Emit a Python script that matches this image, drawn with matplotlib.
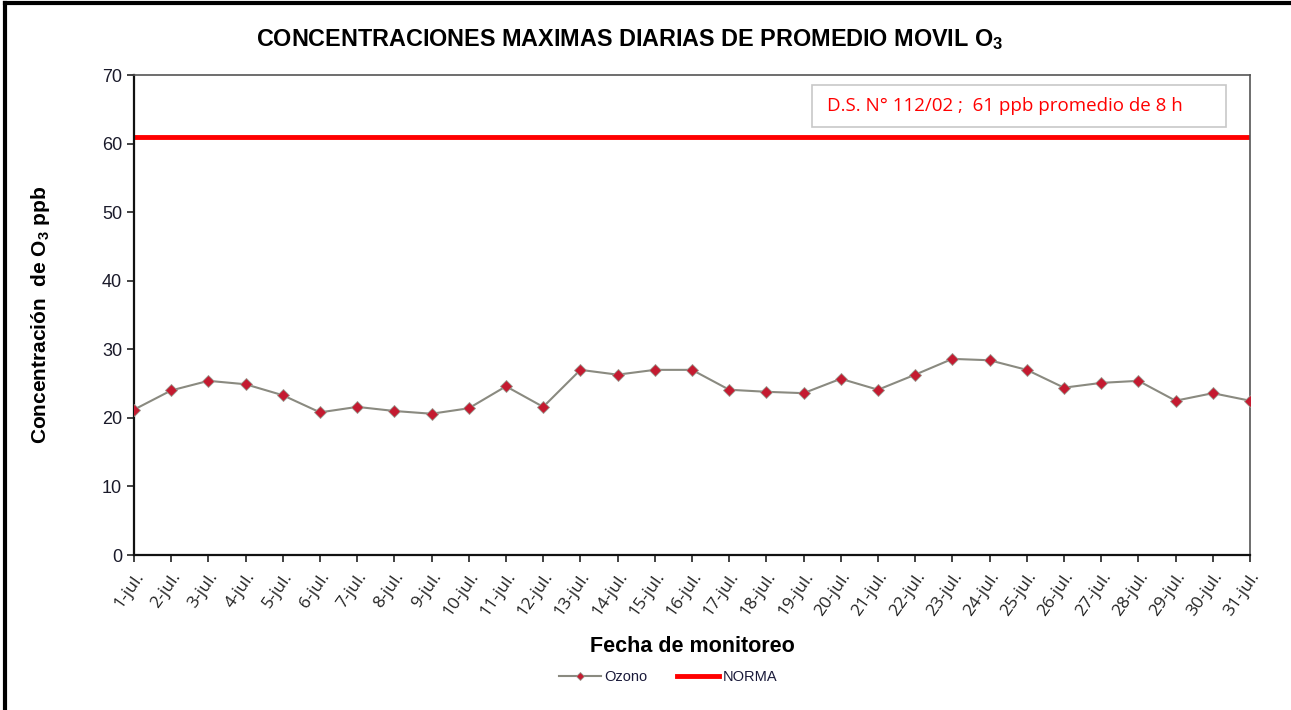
import matplotlib
matplotlib.use("Agg")
import matplotlib.pyplot as plt
from matplotlib.lines import Line2D
from matplotlib.patches import Rectangle

days = [f"{d}-jul." for d in range(1, 32)]
ozono = [21.2, 24.0, 25.4, 24.9, 23.3, 20.8, 21.6, 21.0, 20.6, 21.4,
         24.6, 21.6, 27.0, 26.3, 27.0, 27.0, 24.1, 23.8, 23.6, 25.7,
         24.1, 26.3, 28.6, 28.4, 27.0, 24.4, 25.1, 25.4, 22.5, 23.6, 22.5]
norma = [61] * len(days)
y_ticks = [0, 10, 20, 30, 40, 50, 60, 70]

plt.rcParams['font.family'] = ['Liberation Sans', 'DejaVu Sans']
plt.rcParams['mathtext.fontset'] = 'custom'
plt.rcParams['mathtext.rm'] = 'Liberation Sans'
plt.rcParams['mathtext.bf'] = 'Liberation Sans:bold'
plt.rcParams['mathtext.it'] = 'Liberation Sans:italic'

fig = plt.figure(figsize=(12.91, 7.10), dpi=100)
ax = fig.add_axes([134/1291, 1-555/710, (1250-134)/1291, (555-75)/710])

x = list(range(len(days)))
ax.plot(x, ozono, color='#8a8a80', lw=1.5, marker='D', markersize=6.5,
        markerfacecolor='#c41a30', markeredgecolor='#9a9a90', markeredgewidth=0.6,
        label='Ozono', zorder=3)
ax.plot(x, norma, color='#ff0000', lw=3.5, label='NORMA', zorder=2)

ax.set_xlim(0, len(days) - 1)
ax.set_ylim(0, 70)
ax.set_yticks(y_ticks)
ax.set_yticklabels([str(v) for v in y_ticks], fontsize=13, color='#1a1a2a')
ax.set_xticks(x)
ax.set_xticklabels(days, rotation=55, ha='right', va='top', rotation_mode='anchor',
                   fontsize=12.5, family=['Open Sans', 'DejaVu Sans'], color='#222222')
ax.tick_params(axis='both', direction='out', length=5, width=1.2, color='#222222')
ax.tick_params(axis='x', pad=5)
for s in ['left', 'bottom']:
    ax.spines[s].set_color('#111111')
    ax.spines[s].set_linewidth(1.6)
for s in ['top', 'right']:
    ax.spines[s].set_color('#555555')
    ax.spines[s].set_linewidth(1.2)

ax.set_xlabel('Fecha de monitoreo', fontsize=15.5, fontweight='bold', labelpad=12)
ax.set_ylabel(r'Concentración  de O$_{\mathbf{3}}$ ppb', fontsize=15, fontweight='bold', labelpad=36)

fig.text(630/1291, 1-40/710, r'CONCENTRACIONES MAXIMAS DIARIAS DE PROMEDIO MOVIL O$_{\mathbf{3}}$',
         ha='center', va='center', fontsize=16.8, fontweight='bold',
         family=['Liberation Sans Narrow', 'Liberation Sans'])

fig.add_artist(Rectangle((812/1291, 1-127/710), (1226-812)/1291, 42/710,
                         transform=fig.transFigure, facecolor='white',
                         edgecolor='#c8c8c8', lw=1.2, zorder=4))
fig.text(827/1291, 1-106/710, 'D.S. N° 112/02 ;  61 ppb promedio de 8 h',
         ha='left', va='center', fontsize=13.5, color='#ff0000',
         family=['Open Sans', 'DejaVu Sans'], zorder=5)

leg = fig.legend(loc='center', bbox_to_anchor=(668/1291, 1-677/710), ncol=2, frameon=False,
                 fontsize=10.5, handlelength=2.9, columnspacing=2.0, handletextpad=0.25,
                 markerscale=0.6)
for t in leg.get_texts():
    t.set_color('#1a1a3a')

fig.add_artist(Line2D([5/1291, 5/1291], [0, 1-3/710], transform=fig.transFigure, color='black', lw=3))
fig.add_artist(Line2D([5/1291, 1], [1-3/710, 1-3/710], transform=fig.transFigure, color='black', lw=3))

fig.savefig('out.png', dpi=100)
